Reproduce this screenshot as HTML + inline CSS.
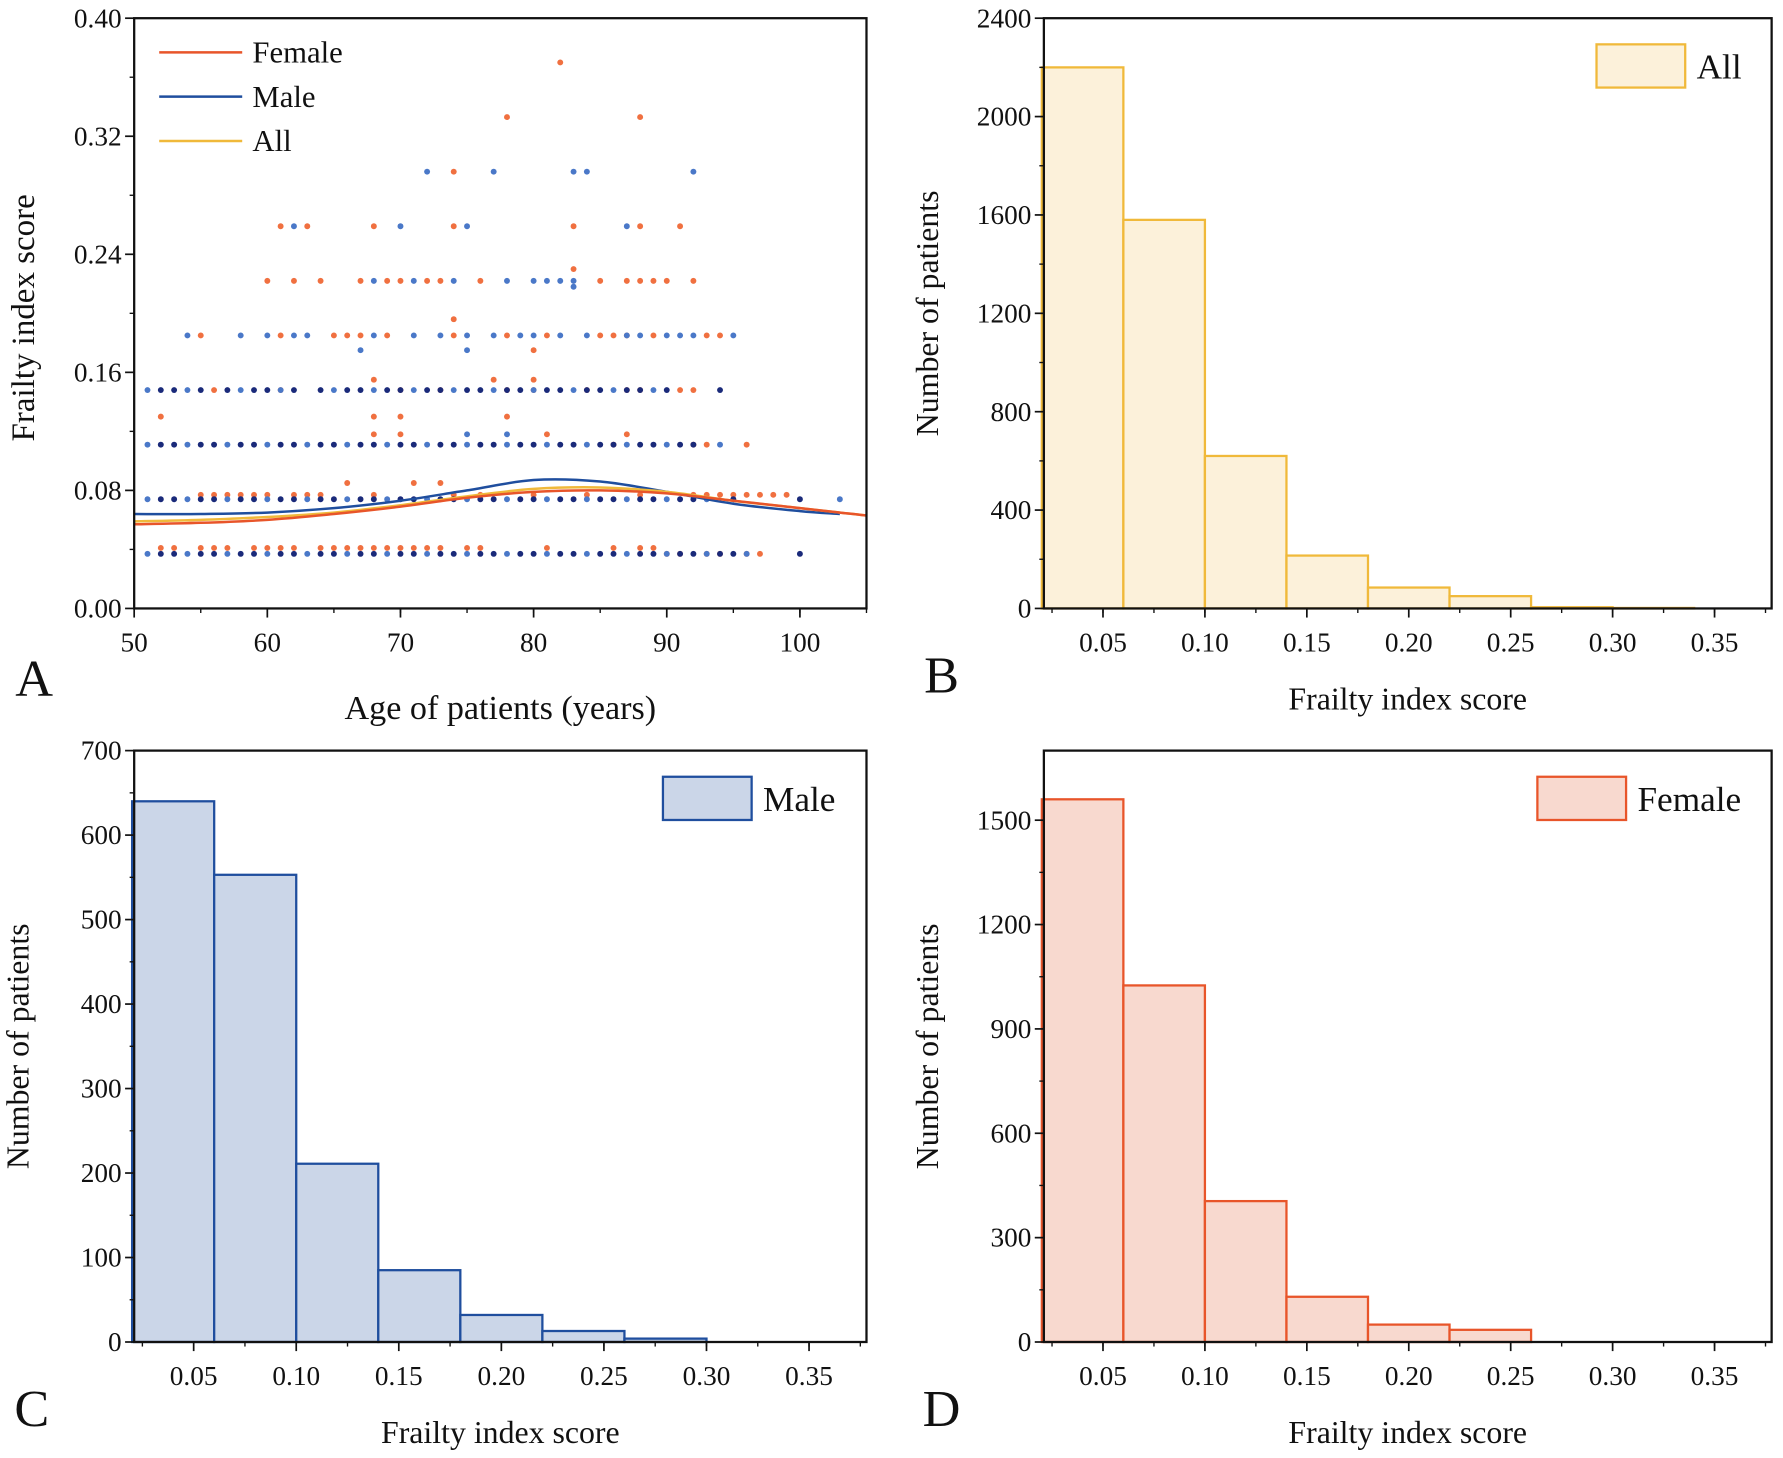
<!DOCTYPE html>
<html><head><meta charset="utf-8"><style>
html,body{margin:0;padding:0;background:#fff;}
svg{display:block;font-family:"Liberation Serif",serif;}
</style></head><body>
<svg id="fig" width="1783" height="1458" viewBox="0 0 1568 1282" preserveAspectRatio="none"></svg>
<script>
// ---------- DATA ----------
const histBins = [0.02,0.06,0.10,0.14,0.18,0.22,0.26,0.30,0.34];
const allCounts = [2200,1580,620,215,85,50,5,2];
const maleCounts = [640,553,211,85,32,13,4,0];
const femaleCounts = [1560,1025,405,130,50,35,0,0];
const histXTicks = [0.05,0.10,0.15,0.20,0.25,0.30,0.35];
const histXTickLabels = ["0.05","0.10","0.15","0.20","0.25","0.30","0.35"];
const allYTicks = [0,400,800,1200,1600,2000,2400];
const maleYTicks = [0,100,200,300,400,500,600,700];
const femaleYTicks = [0,300,600,900,1200,1500];
const scatterXTicks = [50,60,70,80,90,100];
const scatterYTicks = [0,0.08,0.16,0.24,0.32,0.40];
const scatterYTickLabels = ["0.00","0.08","0.16","0.24","0.32","0.40"];
// scatter rows: [score, ages]
const maleRows = [
 [0.037,[51,52,53,54,55,56,57,58,59,60,61,62,63,64,65,66,67,68,69,70,71,72,73,74,75,76,77,78,79,80,81,82,83,84,85,86,87,88,89,90,91,92,93,94,95,96,100]],
 [0.074,[51,52,53,54,55,56,57,58,59,60,61,62,63,64,65,66,67,68,69,70,71,72,73,74,75,76,77,78,79,80,81,82,83,84,85,86,87,88,89,90,91,92,93,95,100,103]],
 [0.111,[51,52,53,54,55,56,57,58,59,60,61,62,63,64,65,66,67,68,69,70,71,72,73,74,75,76,77,78,79,80,81,82,83,84,85,86,87,88,89,90,91,92,94]],
 [0.148,[51,52,53,54,55,57,58,59,60,61,62,64,65,66,67,68,69,70,71,72,73,74,75,76,77,78,79,80,81,82,83,84,85,86,87,88,89,90,94]],
 [0.185,[54,58,60,62,63,68,71,73,75,77,79,80,82,84,87,88,90,91,92,95]],
 [0.222,[68,71,74,78,80,81,82,83]],
 [0.259,[62,70,75,87]],
 [0.296,[72,77,83,84,92]],
 [0.218,[83]],[0.175,[67,75]],[0.118,[75,78]]
];
const femaleRows = [
 [0.041,[52,53,55,56,57,59,60,61,62,64,65,66,67,68,69,70,71,72,73,75,76,81,86,88,89]],
 [0.037,[90,91,93,94,96,97]],
 [0.077,[55,56,57,58,59,60,62,63,64,68,74,76,80,84,88,92,93,94,95,96,97,98,99]],
 [0.085,[66,71,73]],
 [0.111,[86,92,93,96]],
 [0.118,[68,70,81,87]],
 [0.13,[52,68,70,78]],
 [0.148,[56,61,70,73,78,80,84,87,88,91,92]],
 [0.155,[68,77,80]],
 [0.175,[80]],
 [0.185,[55,61,65,66,67,69,74,78,81,85,86,87,89,93,94]],
 [0.196,[74]],
 [0.222,[60,62,64,67,69,70,72,73,76,85,87,88,89,90,92]],
 [0.23,[83]],
 [0.259,[61,63,68,74,83,88,91]],
 [0.296,[74]],
 [0.333,[78,88]],
 [0.37,[82]]
];
const fitAges = [50,55,60,65,70,75,80,85,90,95,100,103,105];
const femaleFit = [0.057,0.058,0.060,0.064,0.069,0.075,0.079,0.080,0.078,0.073,0.068,0.065,0.063];
const maleFit = [0.064,0.064,0.065,0.068,0.073,0.080,0.087,0.086,0.079,0.071,0.066,0.064,null];
const allFit = [0.059,0.060,0.062,0.065,0.070,0.076,0.081,0.082,0.079,0.073,0.068,0.065,0.063];

// ---------- helpers ----------
const NS="http://www.w3.org/2000/svg";
const svg=document.getElementById('fig');
function el(tag,attrs,parent,text){const e=document.createElementNS(NS,tag);for(const k in attrs)e.setAttribute(k,attrs[k]);if(text!==undefined)e.textContent=text;(parent||svg).appendChild(e);return e;}
function lin(d0,d1,r0,r1){return v=>r0+(v-d0)/(d1-d0)*(r1-r0);}

function axesFrame(g,L,R,T,B){
  const f=el('rect',{x:L,y:T,width:R-L,height:B-T,fill:'none',stroke:'#111','stroke-width':2},g);
  
  
}
function yAxis(g,ys,ticks,labels,L,minorN,name){
  const ga=el('g',{},g);
  
  
  ticks.forEach((t,i)=>{
    el('line',{x1:L-8,x2:L,y1:ys(t),y2:ys(t),stroke:'#111','stroke-width':1.5},ga);
    const tx=el('text',{x:L-11,y:ys(t)+8,'text-anchor':'end','font-size':24,fill:'#111'},ga,labels[i]);
    
    
    if(i<ticks.length-1){for(let m=1;m<minorN;m++){const v=t+(ticks[i+1]-t)*m/minorN;el('line',{x1:L-4,x2:L,y1:ys(v),y2:ys(v),stroke:'#111','stroke-width':1.2},ga);}}
  });
}
function xAxis(g,xs,ticks,labels,B,minorStep,lo,hi,name){
  const ga=el('g',{},g);
  
  
  for(let v=lo;v<=hi+1e-9;v+=minorStep){el('line',{x1:xs(v),x2:xs(v),y1:B,y2:B+4,stroke:'#111','stroke-width':1.2},ga);}
  ticks.forEach((t,i)=>{
    el('line',{x1:xs(t),x2:xs(t),y1:B,y2:B+8,stroke:'#111','stroke-width':1.5},ga);
    const tx=el('text',{x:xs(t),y:B+38,'text-anchor':'middle','font-size':24,fill:'#111'},ga,labels[i]);
    
    
  });
}
function label(g,txt,x,y,size,rot,name){
  const t=el('text',{x:x,y:y,'text-anchor':'middle','font-size':size,fill:'#111'},g,txt);
  if(rot)t.setAttribute('transform','rotate(-90 '+x+' '+y+')');
  
  
}

// ---------- Panel A ----------
(function(){
  const L=118,R=762,T=16,B=535;
  const g=el('g',{});
  
  
  const xs=lin(50,105,L,R), ys=lin(0,0.40,B,T);
  const dots=el('g',{},g);
  
  
  femaleRows.forEach(r=>r[1].forEach(a=>{
    const c=el('circle',{cx:xs(a),cy:ys(r[0]),r:2.6,fill:'#f07040'},dots);
    
    
  }));
  maleRows.forEach(r=>r[1].forEach((a,i)=>{
    const c=el('circle',{cx:xs(a),cy:ys(r[0]),r:2.6,fill:(r[1].length>20&&i%3!==0)?'#1a2a7a':'#4a78c8'},dots);
    
    
  }));
  function fit(arr,color,name){
    const pts=[];arr.forEach((v,i)=>{if(v!=null)pts.push([xs(fitAges[i]),ys(v)]);});
    let d='M'+pts[0][0].toFixed(1)+','+pts[0][1].toFixed(1);
    for(let i=0;i<pts.length-1;i++){
      const p0=pts[Math.max(0,i-1)],p1=pts[i],p2=pts[i+1],p3=pts[Math.min(pts.length-1,i+2)];
      const c1=[p1[0]+(p2[0]-p0[0])/6,p1[1]+(p2[1]-p0[1])/6],c2=[p2[0]-(p3[0]-p1[0])/6,p2[1]-(p3[1]-p1[1])/6];
      d+='C'+c1.map(n=>n.toFixed(1)).join(',')+' '+c2.map(n=>n.toFixed(1)).join(',')+' '+p2.map(n=>n.toFixed(1)).join(',');
    }
    const p=el('path',{d:d,fill:'none',stroke:color,'stroke-width':2.2,'stroke-linejoin':'round'},g);
    
    
  }
  fit(maleFit,'#1f4e9e','male-fit-line');
  fit(allFit,'#f0b93a','all-fit-line');
  fit(femaleFit,'#e8552a','female-fit-line');
  axesFrame(g,L,R,T,B);
  yAxis(g,ys,scatterYTicks,scatterYTickLabels,L,2,'y-axis');
  xAxis(g,xs,scatterXTicks,scatterXTicks.map(String),B,5,50,105,'x-axis');
  label(g,'Frailty index score',30,(T+B)/2+4,29,true,'y-axis-title');
  label(g,'Age of patients (years)',440,632,30,false,'x-axis-title');
  label(g,'A',30,612,46,false,'panel-label-a');
  const lg=el('g',{},g);
  
  
  [['Female','#e8552a',46],['Male','#1f4e9e',85],['All','#f0b93a',124]].forEach(e=>{
    const it=el('g',{},lg);
    
    
    el('line',{x1:140,x2:213,y1:e[2],y2:e[2],stroke:e[1],'stroke-width':2.2},it);
    el('text',{x:222,y:e[2]+9,'font-size':27,fill:'#111'},it,e[0]);
  });
})();

// ---------- Histograms ----------
function hist(name,letter,L,R,T,B,counts,yTicks,ymax,minorN,stroke,fill,legendText,legX){
  const g=el('g',{});
  
  
  const xs=lin(0.021,0.378,L,R), ys=lin(0,ymax,B,T);
  counts.forEach((c,i)=>{
    if(c<=0)return;
    const x0=xs(histBins[i]),x1=xs(histBins[i+1]);
    const r=el('rect',{x:x0,y:ys(c),width:x1-x0,height:B-ys(c),fill:fill,stroke:stroke,'stroke-width':2},g);
    
    
  });
  axesFrame(g,L,R,T,B);
  yAxis(g,ys,yTicks,yTicks.map(String),L,2,'y-axis');
  xAxis(g,xs,histXTicks,histXTickLabels,B,0.025,0.025,0.375,'x-axis');
  label(g,'Number of patients',L-93,(T+B)/2,28,true,'y-axis-title');
  label(g,'Frailty index score',(L+R)/2,B+89,28,false,'x-axis-title');
  label(g,letter,L-90,B+74,46,false,'panel-label-'+letter.toLowerCase());
  const lg=el('g',{},g);
  
  
  el('rect',{x:legX,y:T+23,width:78,height:38,fill:fill,stroke:stroke,'stroke-width':2},lg);
  el('text',{x:legX+88,y:T+53,'font-size':31,fill:'#111'},lg,legendText);
}
hist('panel-b-histogram-all','B',918,1558,16,535,allCounts,allYTicks,2400,2,'#f0b93a','#fcf1da','All',1404);
hist('panel-c-histogram-male','C',118,762,660,1180,maleCounts,maleYTicks,700,2,'#1f4e9e','#cbd6e8','Male',583);
hist('panel-d-histogram-female','D',918,1558,660,1180,femaleCounts,femaleYTicks,1700,2,'#e8552a','#f8d9cf','Female',1352);
</script>
</body></html>
